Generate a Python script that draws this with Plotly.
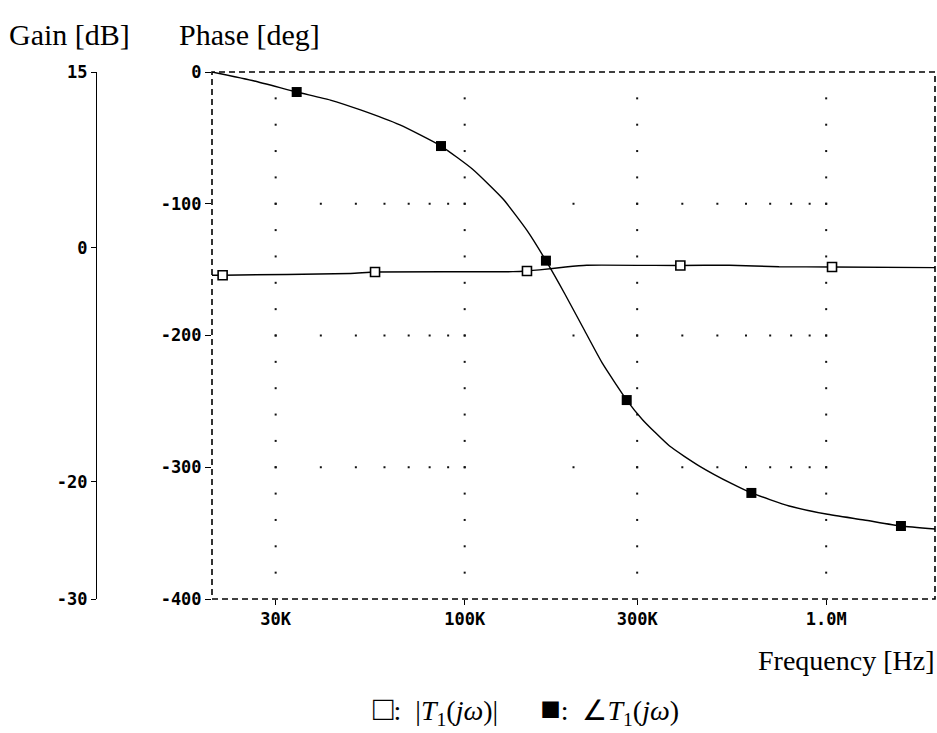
import plotly.graph_objects as go

# ---------------- data ----------------
phase_freq = [20e3, 26.2e3, 34.3e3, 42.5e3, 51.5e3, 66.2e3, 86e3, 105e3, 127.7e3,
              148.7e3, 167.8e3, 189.3e3, 215e3, 241e3, 280.7e3, 310.9e3, 368.8e3,
              446e3, 550e3, 621e3, 790e3, 1.0e6, 1.273e6, 1.61e6, 2.0e6]
phase_deg = [0, -6.8, -15.2, -21.3, -28.8, -40.2, -56.2, -73.6, -96.4,
             -120.2, -143.2, -168.5, -196.6, -221.6, -249, -264.1, -283.9,
             -299.1, -312.7, -319.5, -329.4, -335.5, -340, -344.6, -346.9]
phase_marker_freq = [34.3e3, 86e3, 167.8e3, 280.7e3, 621e3, 1.61e6]
phase_marker_deg = [-15.2, -56.2, -143.2, -249, -319.5, -344.6]

gain_freq = [20e3, 21.4e3, 48.3e3, 56.5e3, 136e3, 148.7e3, 161e3, 190e3, 217.6e3,
             395e3, 540e3, 741e3, 1.038e6, 2.0e6]
gain_db = [-2.35, -2.35, -2.2, -2.08, -2.05, -1.99, -1.9, -1.65, -1.5,
           -1.52, -1.5, -1.63, -1.65, -1.7]
gain_marker_freq = [21.4e3, 56.5e3, 148.7e3, 395e3, 1.038e6]
gain_marker_db = [-2.35, -2.08, -1.99, -1.52, -1.65]

x_tickvals = [30e3, 100e3, 300e3, 1e6]
x_ticktext = ["30K", "100K", "300K", "1.0M"]
phase_tickvals = [0, -100, -200, -300, -400]
phase_ticktext = ["0", "-100", "-200", "-300", "-400"]
gain_tickvals = [15, 0, -20, -30]
gain_ticktext = ["15", "0", "-20", "-30"]

# dotted grid definition
grid_minor_freq = [30e3, 40e3, 50e3, 60e3, 70e3, 80e3, 90e3, 100e3, 200e3, 300e3,
                   400e3, 500e3, 600e3, 700e3, 800e3, 900e3, 1e6]
grid_phase_rows = [-100, -200, -300]
grid_col_steps = list(range(-20, -400, -20))

# ---------------- figure ----------------
W, H = 937, 733
ML, MR, MT, MB = 0, 2, 72, 134
PW = W - ML - MR
PH = H - MT - MB
px_left = 212
px_gain_axis = 96


def pxx(x):
    return (x - ML) / PW


def pxy(y):
    return (H - MB - y) / PH


mono = "DejaVu Sans Mono"
serif = "Liberation Serif"

gx, gy = [], []
for f in x_tickvals:
    for p in grid_col_steps:
        gx.append(f)
        gy.append(p)
for p in grid_phase_rows:
    for f in grid_minor_freq:
        gx.append(f)
        gy.append(p)

fig = go.Figure()
fig.add_trace(go.Scatter(x=gx, y=gy, mode="markers",
                         marker=dict(symbol="square", size=2, color="#111"),
                         hoverinfo="skip", showlegend=False))
fig.add_trace(go.Scatter(x=gain_freq, y=gain_db, yaxis="y2", mode="lines",
                         line=dict(color="black", width=1.4, shape="spline", smoothing=0.5),
                         showlegend=False))
fig.add_trace(go.Scatter(x=phase_freq, y=phase_deg, mode="lines",
                         line=dict(color="black", width=1.4, shape="spline", smoothing=0.5),
                         showlegend=False))
fig.add_trace(go.Scatter(x=gain_marker_freq, y=gain_marker_db, yaxis="y2", mode="markers",
                         marker=dict(symbol="square", size=9, color="white",
                                     line=dict(color="black", width=1.6)),
                         showlegend=False))
fig.add_trace(go.Scatter(x=phase_marker_freq, y=phase_marker_deg, mode="markers",
                         marker=dict(symbol="square", size=10, color="black",
                                     line=dict(color="black", width=0)),
                         showlegend=False))

tickfont = dict(family=mono, size=17, color="black", weight="bold")

legend_text = ("<span style='font-size:34px'>□</span>:  |<i>T</i><sub>1</sub>(<i>jω</i>)|"
               "      <span style='font-size:34px'>■</span>:  ∠<i>T</i><sub>1</sub>(<i>jω</i>)")

fig.update_layout(
    width=W, height=H,
    margin=dict(l=ML, r=MR, t=MT, b=MB),
    paper_bgcolor="white", plot_bgcolor="white",
    xaxis=dict(type="log", range=[4.30103, 6.30103], domain=[pxx(px_left), 1],
               tickvals=x_tickvals, ticktext=x_ticktext, ticks="outside",
               ticklen=5, tickcolor="black", tickwidth=1.2,
               showgrid=False, zeroline=False, showline=False,
               tickfont=tickfont),
    yaxis=dict(range=[-400, 0], tickvals=phase_tickvals, ticktext=phase_ticktext,
               ticks="outside", ticklen=6, tickcolor="black", tickwidth=1.2,
               showgrid=False, zeroline=False, showline=False, tickfont=tickfont,
               anchor="x"),
    yaxis2=dict(range=[-30, 15], tickvals=gain_tickvals, ticktext=gain_ticktext,
                overlaying="y", anchor="free", position=pxx(px_gain_axis), side="left",
                ticks="outside", ticklen=5, tickcolor="black", tickwidth=1.2,
                showline=True, linecolor="black", linewidth=1.3,
                showgrid=False, zeroline=False, tickfont=tickfont),
    font=dict(family=serif, color="black"),
    shapes=[dict(type="rect", xref="x domain", yref="y domain", x0=0, x1=1, y0=0, y1=1,
                 line=dict(color="black", width=1.6, dash="6px,4px"), layer="above")],
    annotations=[
        dict(text="Gain [dB]", xref="paper", yref="paper",
             x=pxx(7), y=pxy(34), xanchor="left", yanchor="middle", showarrow=False,
             font=dict(family=serif, size=30, color="black")),
        dict(text="Phase [deg]", xref="paper", yref="paper",
             x=pxx(177), y=pxy(34), xanchor="left", yanchor="middle", showarrow=False,
             font=dict(family=serif, size=30, color="black")),
        dict(text="Frequency [Hz]", xref="paper", yref="paper",
             x=pxx(936), y=pxy(660), xanchor="right", yanchor="middle", showarrow=False,
             font=dict(family=serif, size=28, color="black")),
        dict(text=legend_text,
             xref="paper", yref="paper", x=pxx(526), y=pxy(710), xanchor="center",
             yanchor="middle", showarrow=False,
             font=dict(family=serif, size=28, color="black")),
    ],
)

fig.write_html("out.html")
